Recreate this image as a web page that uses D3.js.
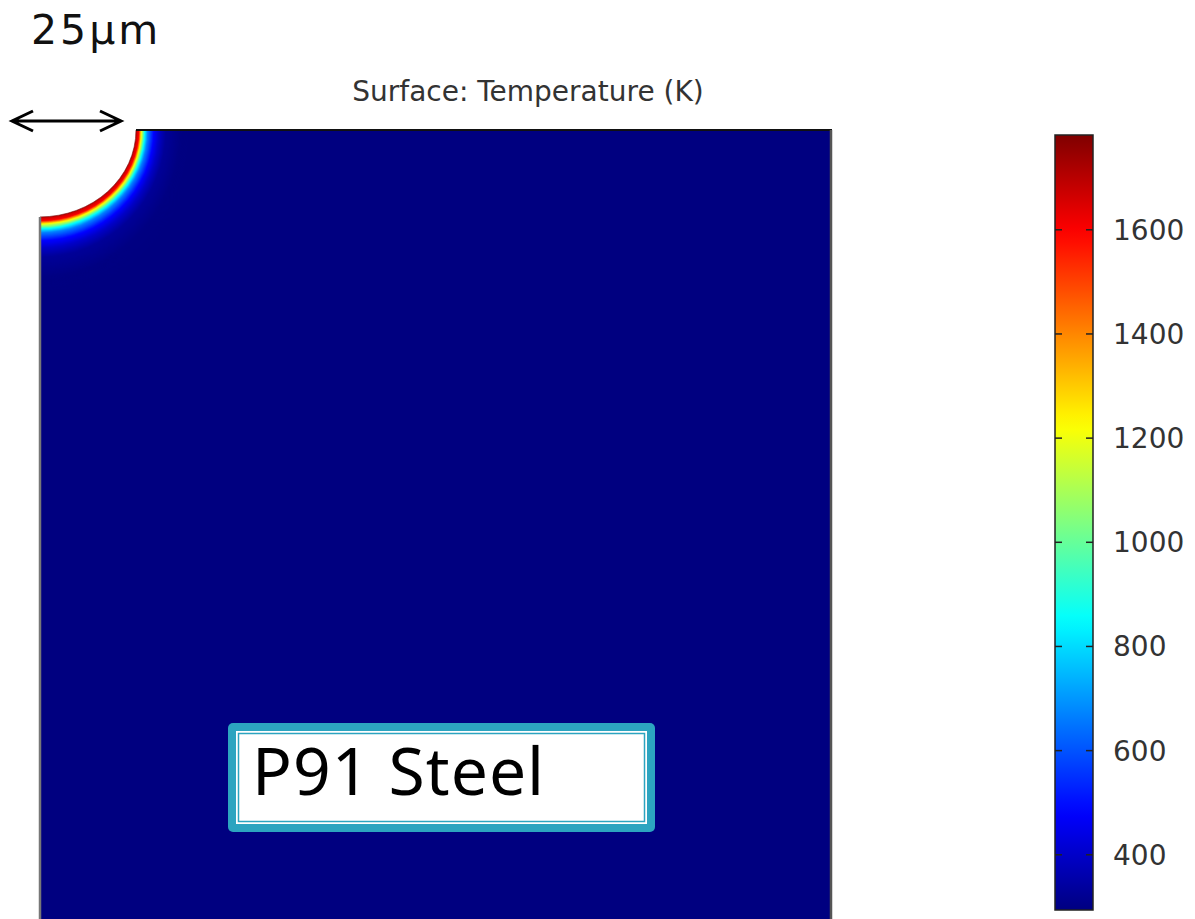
<!DOCTYPE html>
<html>
<head>
<meta charset="utf-8">
<script src="https://cdn.jsdelivr.net/npm/d3@7"></script>
<style>
  html, body { margin: 0; padding: 0; background: #ffffff; }
  svg { display: block; }
</style>
</head>
<body>
<svg id="chart" width="1195" height="919"></svg>
<script>
// ---------------- data ----------------
const titleText = "Surface: Temperature (K)";
const scaleLabel = "25µm";
const materialLabel = "P91 Steel";
// colour-bar tick values (K)
const colorbarTicks = [400, 600, 800, 1000, 1200, 1400, 1600];
// colour-bar range (K)
const tempRange = [294, 1782];
// geometry (µm)
const arcRadiusUm = 25;
const domainWidthUm = 206;
const domainHeightUm = 227;
// temperature profile normal to the heated arc: distance (µm) -> T (K)
const profileDist = [0, 0.3, 0.8, 1.1, 1.43, 1.9, 2.34, 3.1, 4.7, 6.0, 7.8, 11.7, 16];
const profileTemp = [1720, 1660, 1600, 1420, 1224, 1030, 851, 666, 480, 400, 330, 298, 294];
// jet colormap stops
const jetStops = [0, 0.125, 0.375, 0.625, 0.875, 1];
const jetColors = ["#000080", "#0000ff", "#00ffff", "#ffff00", "#ff0000", "#800000"];

// ---------------- drawing ----------------
const svg = d3.select("#chart");

const x = d3.scaleLinear().domain([0, domainWidthUm]).range([40, 831]);
const y = d3.scaleLinear().domain([0, domainHeightUm]).range([130, 919]);
// spread of the heated band below the arc (vertical) is wider than to its right
const bandSpreadY = 1.35;

const jet = d3.scaleLinear().domain(jetStops).range(jetColors).interpolate(d3.interpolateRgb).clamp(true);
const tNorm = d3.scaleLinear().domain(tempRange).range([0, 1]).clamp(true);
const colorOf = T => jet(tNorm(T));
const profile = d3.scaleLinear().domain(profileDist).range(profileTemp).clamp(true);

// domain background (far field)
svg.append("rect")
  .attr("x", x(0)).attr("y", y(0))
  .attr("width", x(domainWidthUm) - x(0))
  .attr("height", y(domainHeightUm) - y(0))
  .attr("fill", colorOf(profileTemp[profileTemp.length - 1]));

// elliptical quarter wedge centred at the top-left corner
const cx = x(0), cy = y(0);
function wedge(du) {
  const rx = x(arcRadiusUm + du) - x(0);
  const ry = (y(arcRadiusUm) - y(0)) + (x(du) - x(0)) * bandSpreadY;
  return `M${cx},${cy}L${cx + rx},${cy}A${rx},${ry} 0 0 1 ${cx},${cy + ry}Z`;
}
const steps = d3.range(profileDist[profileDist.length - 1], -0.0001, -0.1);
svg.append("g").selectAll("path")
  .data(steps)
  .join("path")
  .attr("d", d => wedge(d))
  .attr("fill", d => colorOf(profile(d)));

// hole (white quarter ellipse) with thin edge
svg.append("path")
  .attr("d", wedge(0))
  .attr("fill", "#ffffff");
{
  const rx = x(arcRadiusUm) - x(0), ry = y(arcRadiusUm) - y(0);
  svg.append("path")
    .attr("d", `M${cx + rx},${cy}A${rx},${ry} 0 0 1 ${cx},${cy + ry}`)
    .attr("fill", "none").attr("stroke", "#7a1010").attr("stroke-width", 1).attr("opacity", 0.6);
}

// domain borders
const topStart = x(arcRadiusUm);
svg.append("line")
  .attr("x1", topStart).attr("x2", x(domainWidthUm) + 1)
  .attr("y1", y(0)).attr("y2", y(0))
  .attr("stroke", "#111").attr("stroke-width", 2);
svg.append("line")
  .attr("x1", x(domainWidthUm)).attr("x2", x(domainWidthUm))
  .attr("y1", y(0)).attr("y2", 919)
  .attr("stroke", "#555").attr("stroke-width", 2.5);
svg.append("line")
  .attr("x1", x(0)).attr("x2", x(0))
  .attr("y1", y(arcRadiusUm)).attr("y2", 919)
  .attr("stroke", "#777").attr("stroke-width", 2.5);

// title
svg.append("text")
  .attr("x", 528).attr("y", 101)
  .attr("text-anchor", "middle")
  .attr("font-family", "DejaVu Sans")
  .attr("font-size", 28)
  .attr("fill", "#333")
  .text(titleText);

// scale annotation
svg.append("text")
  .attr("x", 31).attr("y", 44)
  .attr("font-family", "DejaVu Sans")
  .attr("font-size", 41)
  .attr("letter-spacing", 3)
  .attr("fill", "#111")
  .text(scaleLabel);

const ay = 121, ax1 = 12, ax2 = 121;
svg.append("path")
  .attr("d", `M${ax1},${ay}L${ax2},${ay}M${ax1 + 21},${ay - 10}L${ax1},${ay}L${ax1 + 21},${ay + 10}M${ax2 - 21},${ay - 10}L${ax2},${ay}L${ax2 - 21},${ay + 10}`)
  .attr("fill", "none").attr("stroke", "#000").attr("stroke-width", 3)
  .attr("stroke-linejoin", "miter");

// material label box
const bx = 228, by = 723, bw = 427, bh = 109;
svg.append("rect").attr("x", bx).attr("y", by).attr("width", bw).attr("height", bh)
  .attr("rx", 5).attr("fill", "#2ca4c0");
svg.append("rect").attr("x", bx + 8).attr("y", by + 8).attr("width", bw - 16).attr("height", bh - 16)
  .attr("fill", "#ffffff");
svg.append("rect").attr("x", bx + 10.5).attr("y", by + 10.5).attr("width", bw - 21).attr("height", bh - 21)
  .attr("fill", "none").attr("stroke", "#2ca4c0").attr("stroke-width", 1.5);
svg.append("text")
  .attr("x", 252).attr("y", 795)
  .attr("font-family", "Noto Sans")
  .attr("font-size", 66)
  .attr("letter-spacing", 1)
  .attr("fill", "#000")
  .text(materialLabel);

// colour bar
const cbX = 1055, cbW = 38, cbTop = 135, cbBot = 910;
const cbScale = d3.scaleLinear().domain(tempRange).range([cbBot, cbTop]);
const defs = svg.append("defs");
const grad = defs.append("linearGradient").attr("id", "cbgrad")
  .attr("x1", 0).attr("y1", 1).attr("x2", 0).attr("y2", 0);
grad.selectAll("stop")
  .data(d3.range(0, 1.0001, 0.02))
  .join("stop")
  .attr("offset", d => d)
  .attr("stop-color", d => jet(d));
svg.append("rect")
  .attr("x", cbX).attr("y", cbTop).attr("width", cbW).attr("height", cbBot - cbTop)
  .attr("fill", "url(#cbgrad)")
  .attr("stroke", "#222").attr("stroke-width", 1.5);

const tickG = svg.append("g").selectAll("g").data(colorbarTicks).join("g");
tickG.append("line")
  .attr("x1", cbX).attr("x2", cbX + 7)
  .attr("y1", d => cbScale(d)).attr("y2", d => cbScale(d))
  .attr("stroke", "#222").attr("stroke-width", 1.5);
tickG.append("line")
  .attr("x1", cbX + cbW - 7).attr("x2", cbX + cbW)
  .attr("y1", d => cbScale(d)).attr("y2", d => cbScale(d))
  .attr("stroke", "#222").attr("stroke-width", 1.5);
tickG.append("text")
  .attr("x", 1113)
  .attr("y", d => cbScale(d) + 10)
  .attr("font-family", "DejaVu Sans")
  .attr("font-size", 28)
  .attr("fill", "#333")
  .text(d => d);
</script>
</body>
</html>
